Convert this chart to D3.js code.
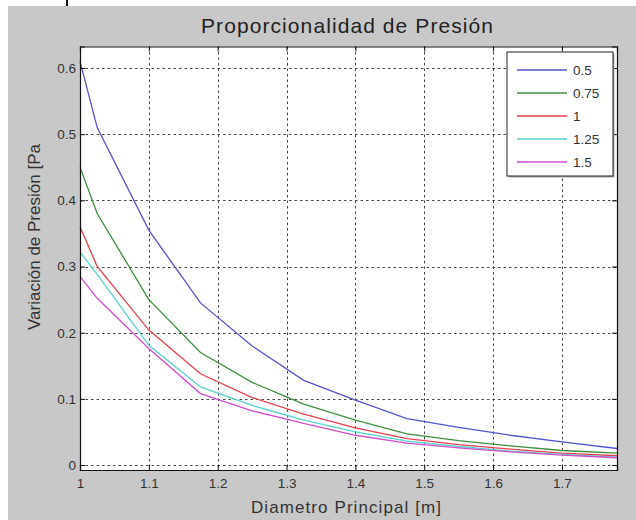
<!DOCTYPE html>
<html>
<head>
<meta charset="utf-8">
<title>Proporcionalidad de Presión</title>
<style>
  body { margin: 0; background: #fff; }
  svg { display: block; font-family: "Liberation Sans", Arial, sans-serif; }
</style>
</head>
<body>
<div id="chart"></div>
<script src="https://cdn.jsdelivr.net/npm/d3@7/dist/d3.min.js"></script>
<script>
// data
var diam = [1, 1.025, 1.1, 1.175, 1.25, 1.325, 1.4, 1.475, 1.55, 1.625, 1.7, 1.78];
var seriesNames = ["0.5", "0.75", "1", "1.25", "1.5"];
var p050 = [0.61, 0.51, 0.355, 0.245, 0.18, 0.128, 0.098, 0.07, 0.057, 0.045, 0.035, 0.025];
var p075 = [0.45, 0.38, 0.25, 0.17, 0.125, 0.092, 0.068, 0.047, 0.037, 0.029, 0.022, 0.018];
var p100 = [0.36, 0.30, 0.204, 0.138, 0.102, 0.077, 0.056, 0.04, 0.031, 0.024, 0.018, 0.014];
var p125 = [0.322, 0.288, 0.181, 0.118, 0.09, 0.068, 0.05, 0.036, 0.028, 0.021, 0.016, 0.012];
var p150 = [0.285, 0.252, 0.176, 0.108, 0.082, 0.063, 0.045, 0.033, 0.026, 0.02, 0.015, 0.011];
var xTicks = [1, 1.1, 1.2, 1.3, 1.4, 1.5, 1.6, 1.7];
var yTicks = [0, 0.1, 0.2, 0.3, 0.4, 0.5, 0.6];

var allSeries = [p050, p075, p100, p125, p150];
var colors = ["#5454cc", "#3f8f3f", "#e6404c", "#55d2d2", "#d24ec8"];

var width = 636, height = 520;
var pLeft = 80, pRight = 617, pTop = 46.5, pBottom = 470;

var svg = d3.select('#chart').append('svg')
  .attr('width', width)
  .attr('height', height);

// figure background (screenshot crop leaves a white edge)
svg.append('rect').attr('x', 8).attr('y', 6).attr('width', width - 8).attr('height', height - 6)
  .attr('fill', '#c8c8c8');
svg.append('rect').attr('x', 66).attr('y', 0).attr('width', 2).attr('height', 6).attr('fill', '#111');

var x = d3.scaleLinear().domain([1, 1.78]).range([pLeft, pRight]);
var y = d3.scaleLinear().domain([-0.0075, 0.6325]).range([pBottom, pTop]);

svg.append('rect')
  .attr('x', pLeft).attr('y', pTop)
  .attr('width', pRight - pLeft).attr('height', pBottom - pTop)
  .attr('fill', '#fff');

// grid
var grid = svg.append('g').attr('stroke', '#444').attr('stroke-width', 1)
  .attr('stroke-dasharray', '2.5,3');
grid.selectAll('.gx').data(xTicks.slice(1)).enter().append('line')
  .attr('x1', function(d){ return Math.round(x(d)) + 0.5; })
  .attr('x2', function(d){ return Math.round(x(d)) + 0.5; })
  .attr('y1', pTop).attr('y2', pBottom);
grid.selectAll('.gy').data(yTicks).enter().append('line')
  .attr('y1', function(d){ return Math.round(y(d)) + 0.5; })
  .attr('y2', function(d){ return Math.round(y(d)) + 0.5; })
  .attr('x1', pLeft).attr('x2', pRight);

// curves
var line = d3.line()
  .x(function(d, i){ return x(diam[i]); })
  .y(function(d){ return y(d); });

svg.append('g').selectAll('path').data(allSeries).enter().append('path')
  .attr('d', line)
  .attr('fill', 'none')
  .attr('stroke', function(d, i){ return colors[i]; })
  .attr('stroke-width', 1.3);

// axes (ticks point inwards, box on)
svg.append('g').attr('transform', 'translate(0,' + pBottom + ')')
  .call(d3.axisBottom(x).tickValues(xTicks).tickSize(-5).tickPadding(8)
    .tickFormat(function(d){ return d3.format('')(d); }));
svg.append('g').attr('transform', 'translate(' + pLeft + ',0)')
  .call(d3.axisLeft(y).tickValues(yTicks).tickSize(-5).tickPadding(4)
    .tickFormat(function(d){ return d3.format('')(d); }));
svg.append('g').attr('transform', 'translate(0,' + pTop + ')')
  .call(d3.axisTop(x).tickValues(xTicks).tickSize(-5).tickFormat(''));
svg.append('g').attr('transform', 'translate(' + pRight + ',0)')
  .call(d3.axisRight(y).tickValues(yTicks).tickSize(-5).tickFormat(''));

svg.selectAll('.domain').attr('stroke', '#111').attr('stroke-width', 1.2);
svg.selectAll('.tick line').attr('stroke', '#111');
svg.selectAll('.tick text').attr('fill', '#333').style('font-size', '13.5px');

// legend
var lg = svg.append('g').attr('transform', 'translate(507,52)');
lg.append('rect').attr('x', 1.5).attr('y', 1.5).attr('width', 106).attr('height', 124)
  .attr('fill', '#aaa');
lg.append('rect').attr('width', 106).attr('height', 124)
  .attr('fill', '#fff').attr('stroke', '#222');
var item = lg.selectAll('.item').data(seriesNames).enter().append('g')
  .attr('transform', function(d, i){ return 'translate(0,' + (18 + i * 23) + ')'; });
item.append('line').attr('x1', 10).attr('x2', 60)
  .attr('stroke', function(d, i){ return colors[i]; }).attr('stroke-width', 1.3);
item.append('text').attr('x', 66).attr('dy', '0.35em')
  .style('font-size', '13.5px').attr('fill', '#333')
  .text(function(d){ return d; });

// titles
svg.append('text').attr('x', 347).attr('y', 33)
  .attr('text-anchor', 'middle').style('font-size', '21px').attr('fill', '#222')
  .attr('textLength', 292).attr('lengthAdjust', 'spacing')
  .text('Proporcionalidad de Presión');
svg.append('text').attr('x', 346).attr('y', 513)
  .attr('text-anchor', 'middle').style('font-size', '17px').attr('fill', '#333')
  .attr('textLength', 190).attr('lengthAdjust', 'spacing')
  .text('Diametro Principal [m]');
svg.append('text')
  .attr('transform', 'translate(40,' + 237 + ') rotate(-90)')
  .attr('text-anchor', 'middle').style('font-size', '17px').attr('fill', '#333')
  .attr('textLength', 186).attr('lengthAdjust', 'spacing')
  .text('Variación de Presión [Pa');
</script>
</body>
</html>
